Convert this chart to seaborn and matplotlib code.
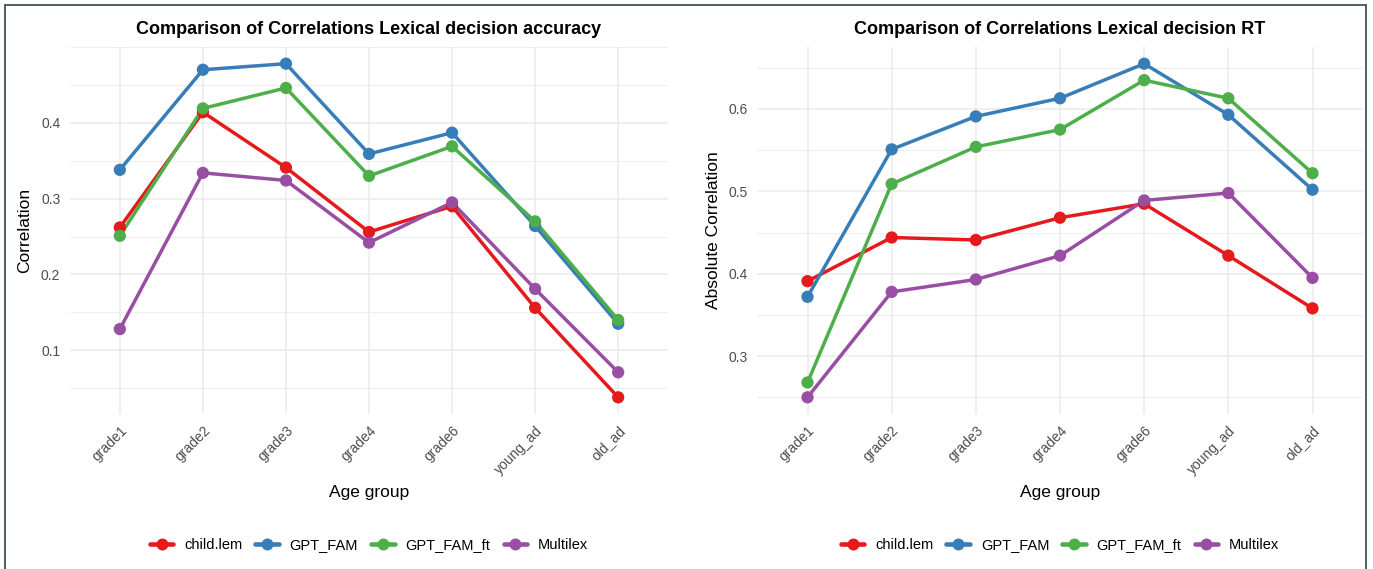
import matplotlib
matplotlib.use("Agg")
import matplotlib.pyplot as plt
from matplotlib.lines import Line2D
from matplotlib.ticker import MultipleLocator, FormatStrFormatter
import seaborn as sns
import pandas as pd

# ---------------- data ----------------
age_groups = ["grade1", "grade2", "grade3", "grade4", "grade6", "young_ad", "old_ad"]
models = ["child.lem", "GPT_FAM", "GPT_FAM_ft", "Multilex"]

acc_child_lem = [0.262, 0.414, 0.341, 0.256, 0.290, 0.156, 0.038]
acc_gpt_fam = [0.338, 0.470, 0.478, 0.359, 0.387, 0.264, 0.135]
acc_gpt_fam_ft = [0.251, 0.419, 0.446, 0.330, 0.369, 0.270, 0.140]
acc_multilex = [0.128, 0.334, 0.324, 0.242, 0.295, 0.181, 0.071]

rt_child_lem = [0.391, 0.444, 0.441, 0.468, 0.485, 0.422, 0.358]
rt_gpt_fam = [0.372, 0.551, 0.591, 0.613, 0.655, 0.593, 0.502]
rt_gpt_fam_ft = [0.268, 0.509, 0.554, 0.575, 0.635, 0.613, 0.522]
rt_multilex = [0.250, 0.378, 0.393, 0.422, 0.489, 0.498, 0.395]

acc_yticks = [0.1, 0.2, 0.3, 0.4]
rt_yticks = [0.3, 0.4, 0.5, 0.6]

titles = ["Comparison of Correlations Lexical decision accuracy",
          "Comparison of Correlations Lexical decision RT"]
ylabels = ["Correlation", "Absolute Correlation"]
xlabel = "Age group"

colors = ["#E41A1C", "#377EB8", "#4DAF4A", "#984EA3"]


def long_df(series):
    rows = []
    for m, vals in zip(models, series):
        for a, v in zip(age_groups, vals):
            rows.append({"age": a, "model": m, "value": v})
    return pd.DataFrame(rows)


df_acc = long_df([acc_child_lem, acc_gpt_fam, acc_gpt_fam_ft, acc_multilex])
df_rt = long_df([rt_child_lem, rt_gpt_fam, rt_gpt_fam_ft, rt_multilex])

# ---------------- style ----------------
sns.set_theme(style="white")
plt.rcParams["font.family"] = ["Liberation Sans", "DejaVu Sans"]

W, H = 1373, 569
fig = plt.figure(figsize=(W / 100, H / 100), dpi=100)

panel_px = [(70, 668), (757, 1363)]
top_px, bot_px = 47, 414
palette = dict(zip(models, colors))
LW = 2.5

for i, (df, yt, (x0, x1)) in enumerate(zip([df_acc, df_rt], [acc_yticks, rt_yticks], panel_px)):
    ax = fig.add_axes([x0 / W, 1 - bot_px / H, (x1 - x0) / W, (bot_px - top_px) / H])
    sns.lineplot(data=df, x="age", y="value", hue="model", palette=palette,
                 sort=False, linewidth=LW, ax=ax, legend=False, zorder=3)
    sns.scatterplot(data=df, x="age", y="value", hue="model", palette=palette,
                    s=78, linewidth=0, edgecolor="none", ax=ax, legend=False, zorder=4)
    ax.set_xlim(-0.6, len(age_groups) - 0.4)
    ax.margins(y=0.05)
    ax.autoscale(axis="y")
    ax.set_yticks(yt)
    ax.yaxis.set_minor_locator(MultipleLocator(0.05))
    ax.grid(True, which="major", color="#EBEBEB", linewidth=1.1)
    ax.grid(True, which="minor", axis="y", color="#EBEBEB", linewidth=0.6)
    ax.set_axisbelow(True)
    for s in ax.spines.values():
        s.set_visible(False)
    ax.tick_params(axis="both", which="both", length=0, labelsize=10,
                   labelcolor="#4D4D4D")
    ax.tick_params(axis="y", pad=7)
    ax.tick_params(axis="x", pad=7)
    ax.yaxis.set_major_formatter(FormatStrFormatter("%.1f"))
    for lab in ax.get_xticklabels():
        lab.set_rotation(45)
        lab.set_ha("right")
        lab.set_va("top")
        lab.set_rotation_mode("anchor")

    ax.set_xlabel(xlabel, fontsize=12.5, color="black", va="center")
    ax.xaxis.set_label_coords(0.5, (bot_px - 492) / (bot_px - top_px))
    ylab_x = [25, 713.5][i]
    ax.set_ylabel(ylabels[i], fontsize=12.5, color="black", va="center")
    ax.yaxis.set_label_coords((ylab_x - x0) / (x1 - x0), 0.5)

    ax.text(0.5, 1 + 17.5 / (bot_px - top_px), titles[i], transform=ax.transAxes,
            ha="center", va="center", fontsize=13, fontweight="bold", color="black")

    handles = [Line2D([0], [0], color=c, linewidth=LW + 0.8, marker="o", markersize=8.6,
                      markeredgewidth=0) for c in colors]
    ax.legend(handles, models, loc="center", ncol=4, frameon=False,
              bbox_to_anchor=(0.5, (bot_px - 545) / (bot_px - top_px)),
              fontsize=10.5, handlelength=1.6, handletextpad=0.75,
              columnspacing=0.9, labelcolor="black")

# outer frame (top, left, right)
frame_c = "#3d5656"
fig.add_artist(Line2D([5 / W, 1366 / W], [1 - 5 / H, 1 - 5 / H], color=frame_c,
                      linewidth=1.3, transform=fig.transFigure))
fig.add_artist(Line2D([5 / W, 5 / W], [0, 1 - 5 / H], color=frame_c,
                      linewidth=1.3, transform=fig.transFigure))
fig.add_artist(Line2D([1366 / W, 1366 / W], [0, 1 - 5 / H], color=frame_c,
                      linewidth=1.3, transform=fig.transFigure))

fig.savefig("out.png", dpi=100, facecolor="white")
